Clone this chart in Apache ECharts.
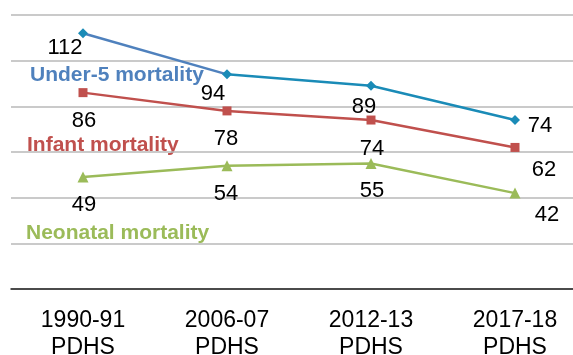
<!DOCTYPE html>
<html>
<head>
<meta charset="utf-8">
<script src="https://cdn.jsdelivr.net/npm/echarts@6/dist/echarts.min.js"></script>
<style>
  html, body { margin: 0; padding: 0; background: #fff; }
  #chart { width: 573px; height: 355px; }
</style>
</head>
<body>
<div id="chart"></div>
<script>
// Survey rounds and mortality rates (per 1,000 live births)
const surveys = ['1990-91\nPDHS', '2006-07\nPDHS', '2012-13\nPDHS', '2017-18\nPDHS'];
const under5 = [112, 94, 89, 74];
const infant = [86, 78, 74, 62];
const neonatal = [49, 54, 55, 42];
const yTicks = [0, 20, 40, 60, 80, 100, 120];

// Label placement relative to each point, in pixels [dx, dy]
const under5Offsets = [[-18, 15], [-14, 20], [-7, 21], [25, 6]];
const infantOffsets = [[1, 28], [-1, 28], [1, 29], [29, 23]];
const neonatalOffsets = [[1, 28], [-1, 28], [1, 28], [32, 22]];

const FONT = '"Liberation Sans", Arial, sans-serif';
const BLUE = '#4f81bd';
const TEAL = '#1a8bb7';
const RED = '#c0504d';
const GREEN = '#9bbb59';

function labelled(values, offsets) {
  return values.map((v, i) => ({
    value: v,
    label: { show: true, offset: offsets[i] }
  }));
}

const valueLabel = {
  position: 'inside',
  color: '#000',
  fontFamily: FONT,
  fontSize: 22,
  formatter: '{c}'
};

const chart = echarts.init(document.getElementById('chart'), null, { renderer: 'canvas' });

chart.setOption({
  animation: false,
  backgroundColor: '#fff',
  grid: { left: 11, width: 576, top: 15, bottom: 66, outerBoundsMode: 'none', containLabel: false },
  xAxis: {
    type: 'category',
    data: surveys,
    boundaryGap: true,
    axisLine: { lineStyle: { color: '#222', width: 1.5 } },
    axisTick: { show: false },
    axisLabel: {
      color: '#000',
      fontFamily: FONT,
      fontSize: 23,
      lineHeight: 27,
      margin: 18
    }
  },
  yAxis: {
    type: 'value',
    min: yTicks[0],
    max: yTicks[yTicks.length - 1],
    interval: yTicks[1] - yTicks[0],
    axisLine: { show: false },
    axisTick: { show: false },
    axisLabel: { show: false },
    splitLine: { lineStyle: { color: '#b8b8b8', width: 1.5 } }
  },
  series: [
    {
      name: 'Under-5 mortality (first segment)',
      type: 'line',
      data: under5.map((v, i) => (i <= 1 ? v : '-')),
      symbol: 'none',
      lineStyle: { color: BLUE, width: 2.5 },
      z: 2,
      silent: true
    },
    {
      name: 'Under-5 mortality (later segments)',
      type: 'line',
      data: under5.map((v, i) => (i >= 1 ? v : '-')),
      symbol: 'none',
      lineStyle: { color: TEAL, width: 2.5 },
      z: 2,
      silent: true
    },
    {
      name: 'Under-5 mortality',
      type: 'line',
      data: labelled(under5, under5Offsets),
      symbol: 'diamond',
      symbolSize: 10,
      itemStyle: { color: TEAL },
      lineStyle: { width: 0, opacity: 0 },
      label: valueLabel,
      z: 4
    },
    {
      name: 'Infant mortality',
      type: 'line',
      data: labelled(infant, infantOffsets),
      symbol: 'rect',
      symbolSize: 9,
      itemStyle: { color: RED },
      lineStyle: { color: RED, width: 2.5 },
      label: valueLabel,
      z: 3
    },
    {
      name: 'Neonatal mortality',
      type: 'line',
      data: labelled(neonatal, neonatalOffsets),
      symbol: 'triangle',
      symbolSize: 11,
      itemStyle: { color: GREEN },
      lineStyle: { color: GREEN, width: 2.5 },
      label: valueLabel,
      z: 3
    }
  ],
  graphic: [
    {
      type: 'text', left: 30, top: 65,
      style: { text: 'Under-5 mortality', fill: BLUE, font: 'bold 21px ' + FONT }
    },
    {
      type: 'text', left: 27, top: 135,
      style: { text: 'Infant mortality', fill: RED, font: 'bold 21px ' + FONT }
    },
    {
      type: 'text', left: 26, top: 223,
      style: { text: 'Neonatal mortality', fill: GREEN, font: 'bold 21px ' + FONT }
    }
  ]
});
</script>
</body>
</html>
